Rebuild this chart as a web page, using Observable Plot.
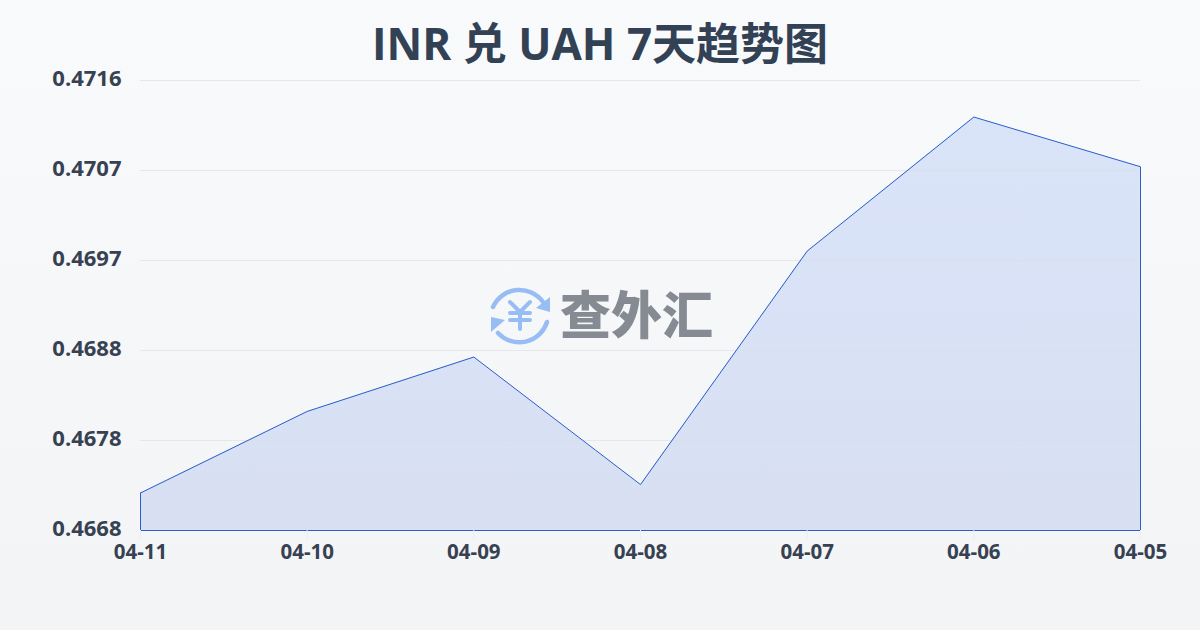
<!DOCTYPE html>
<html><head><meta charset="utf-8">
<script src="https://cdn.jsdelivr.net/npm/d3@7"></script>
<script src="https://cdn.jsdelivr.net/npm/@observablehq/plot@0.6"></script>
<style>
html,body{margin:0;padding:0;width:1200px;height:630px;overflow:hidden;background:linear-gradient(180deg,#f8fafc 0%,#f3f4f6 100%);}
#wrap{position:relative;width:1200px;height:630px;}
#title{position:absolute;left:0;top:14px;width:1200px;text-align:center;font:700 44px/58px "Open Sans","Noto Sans CJK SC",sans-serif;color:#334155;}
#chart{position:absolute;left:0;top:60px;}
#mark{position:absolute;left:480px;top:275px;}
</style></head><body>
<div id="wrap">
<div id="title">INR 兑 UAH 7天趋势图</div>
<div id="chart"></div>
<svg id="mark" width="250" height="80" viewBox="480 275 250 80">
  <g fill="none" stroke="#98bdf5" stroke-width="4.5" stroke-linecap="round">
    <path d="M493 307 A29 29 0 0 1 543 302"/>
    <path d="M547 322 A29 29 0 0 1 498 333"/>
    <path d="M510 302 L520 312 L530 302 M510 313 H530 M510 320 H530 M520 312 V329" stroke-width="4"/>
  </g>
  <path d="M550 297 L550 312 L536 308 Z M491 317 L491 332 L505 320 Z" fill="#98bdf5"/>
  <text x="560" y="334" font-family="Noto Sans CJK SC" font-weight="900" font-size="51" fill="#858a93">查外汇</text>
</svg>
</div>
<script>
const dates = ["04-11","04-10","04-09","04-08","04-07","04-06","04-05"];
const rates = [0.46720,0.46807,0.46865,0.46729,0.46978,0.47121,0.47068];
const yTicks = [0.4668,0.46776,0.46872,0.46968,0.47064,0.4716];
const yLabels = ["0.4668","0.4678","0.4688","0.4697","0.4707","0.4716"];
const data = dates.map((d,i)=>({date:d,rate:rates[i]}));
const baseValue = 0.4668;
const font = '"Open Sans","Noto Sans CJK SC",sans-serif';

const gradient = () => {
  const svgNS = "http://www.w3.org/2000/svg";
  const defs = document.createElementNS(svgNS,"defs");
  defs.innerHTML = '<linearGradient id="areaFill" x1="0" y1="0" x2="0" y2="1">'+
    '<stop offset="0" stop-color="#2563eb" stop-opacity="0.14"/>'+
    '<stop offset="1" stop-color="#1d4ed8" stop-opacity="0.13"/></linearGradient>';
  return defs;
};

const plot = Plot.plot({
  width:1200, height:510,
  marginTop:20, marginBottom:40, marginLeft:140, marginRight:60,
  style:{background:"transparent",overflow:"visible"},
  x:{type:"point",domain:dates,padding:0,round:false,label:null},
  y:{domain:[0.4668,0.4716],label:null,axis:null},
  marks:[
    gradient,
    Plot.ruleY(yTicks,{stroke:"#e5e7eb",strokeWidth:1,strokeOpacity:1}),
    Plot.areaY(data,{x:"date",y1:baseValue,y2:"rate",fill:"url(#areaFill)",curve:"linear"}),
    Plot.ruleY(yTicks.slice(1),{stroke:"#e5e7eb",strokeOpacity:0.55}),
    Plot.lineY([...data,{date:"04-05",rate:baseValue},{date:"04-11",rate:baseValue},data[0]],{x:"date",y:"rate",stroke:"#2b5fc9",strokeWidth:1,curve:"linear"}),
    Plot.axisX({anchor:"bottom",tickSize:10,tickPadding:4,stroke:"#eceef1",fill:"#374151",fontSize:20.5,fontWeight:700,fontFamily:font,label:null,textStroke:"none"}),
    Plot.text(yTicks,{x:()=>dates[0],y:d=>d,text:(d,i)=>yLabels[i],textAnchor:"end",dx:-19,dy:-2,fill:"#374151",fontSize:22,fontWeight:700,fontFamily:font})
  ]
});
document.getElementById("chart").appendChild(plot);
</script>
</body></html>
